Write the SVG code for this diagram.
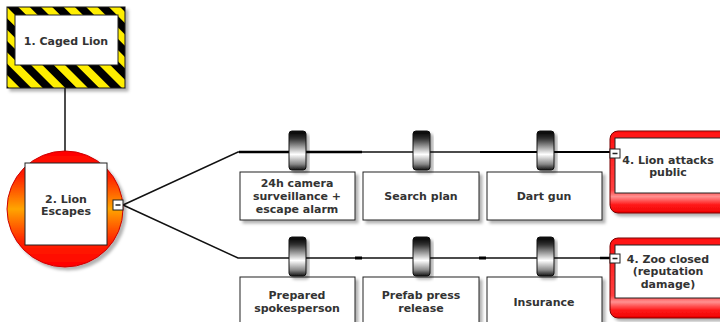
<svg xmlns="http://www.w3.org/2000/svg" width="720" height="322" viewBox="0 0 720 322">
<defs>
  <pattern id="hazard" patternUnits="userSpaceOnUse" width="16" height="16" patternTransform="rotate(-45)">
    <rect x="0" y="0" width="16" height="16" fill="#ffee00"/>
    <rect x="0" y="0" width="8" height="16" fill="#000"/>
  </pattern>
  <linearGradient id="circleGrad" x1="0" y1="0" x2="0" y2="1">
    <stop offset="0" stop-color="#ff0000"/>
    <stop offset="0.22" stop-color="#ff2200"/>
    <stop offset="0.5" stop-color="#ffa500"/>
    <stop offset="0.78" stop-color="#ff2200"/>
    <stop offset="1" stop-color="#ff0000"/>
  </linearGradient>
  <linearGradient id="cylGrad" x1="0" y1="0" x2="0" y2="1">
    <stop offset="0" stop-color="#000"/>
    <stop offset="0.2" stop-color="#333"/>
    <stop offset="0.6" stop-color="#fff"/>
    <stop offset="0.85" stop-color="#888"/>
    <stop offset="1" stop-color="#111"/>
  </linearGradient>
  <linearGradient id="redGrad" x1="0" y1="0" x2="0" y2="1">
    <stop offset="0" stop-color="#ff1010"/>
    <stop offset="0.72" stop-color="#ff4040"/>
    <stop offset="0.8" stop-color="#ff9090"/>
    <stop offset="0.9" stop-color="#ff1a1a"/>
    <stop offset="1" stop-color="#ee0000"/>
  </linearGradient>
  <filter id="shadow" x="-20%" y="-20%" width="140%" height="140%">
    <feDropShadow dx="3" dy="3" stdDeviation="1.5" flood-color="#000" flood-opacity="0.3"/>
  </filter>
</defs>
<style>
  text { font-family: "DejaVu Sans", Verdana, sans-serif; font-weight: bold; font-size: 11px; fill: #333; text-anchor: middle; }
  .box { fill: #fff; stroke: #222; stroke-width: 1; }
  .line { stroke: #111; stroke-width: 1.5; fill: none; }
  .cyl { fill: url(#cylGrad); stroke: #111; stroke-width: 1; }
  .minus { fill: #fff; stroke: #222; stroke-width: 1; }
  .red { fill: url(#redGrad); stroke: #700; stroke-width: 1; }
</style>

<g id="connectors">
  <line class="line" x1="65" y1="88" x2="65" y2="151"/>
  <polyline class="line" points="123,205 238,152 612,152"/>
  <polyline class="line" points="123,205 238,258 612,258"/>
  <line x1="239" y1="152" x2="362" y2="152" stroke="#000" stroke-width="2.5"/>
  <line x1="480" y1="152" x2="610" y2="152" stroke="#000" stroke-width="2"/>
  <line x1="355" y1="258" x2="362" y2="258" stroke="#000" stroke-width="3"/>
  <line x1="479" y1="258" x2="486" y2="258" stroke="#000" stroke-width="3"/>
  <line x1="600" y1="258" x2="610" y2="258" stroke="#000" stroke-width="2.5"/>
</g>

<g id="node1">
  <rect x="7" y="7" width="118" height="81" fill="url(#hazard)" stroke="#111" stroke-width="1" filter="url(#shadow)"/>
  <rect class="box" x="15" y="15" width="103" height="50"/>
  <text x="66" y="45">1. Caged Lion</text>
</g>

<g id="node2">
  <circle cx="65" cy="209" r="58" fill="url(#circleGrad)" stroke="#c00" stroke-width="1" filter="url(#shadow)"/>
  <rect class="box" x="25" y="163" width="82" height="82"/>
  <text x="66" y="203">2. Lion</text>
  <text x="66" y="215">Escapes</text>
  <rect class="minus" x="113" y="200" width="10" height="10"/>
  <line x1="115.5" y1="205" x2="120.5" y2="205" stroke="#222" stroke-width="1.5"/>
</g>

<g id="barrier1">
  <rect class="box" x="240" y="172" width="115" height="48" filter="url(#shadow)"/>
  <rect class="cyl" x="289" y="131" width="17" height="39" rx="3" filter="url(#shadow)"/>
  <text x="297" y="187">24h camera</text>
  <text x="297" y="200">surveillance +</text>
  <text x="297" y="213">escape alarm</text>
</g>
<g id="barrier2">
  <rect class="box" x="363" y="172" width="116" height="48" filter="url(#shadow)"/>
  <rect class="cyl" x="413" y="131" width="17" height="39" rx="3" filter="url(#shadow)"/>
  <text x="421" y="200">Search plan</text>
</g>
<g id="barrier3">
  <rect class="box" x="487" y="172" width="115" height="48" filter="url(#shadow)"/>
  <rect class="cyl" x="537" y="131" width="17" height="39" rx="3" filter="url(#shadow)"/>
  <text x="544" y="200">Dart gun</text>
</g>

<g id="consequence1">
  <rect class="red" x="610" y="131" width="120" height="82" rx="8" filter="url(#shadow)"/>
  <rect class="box" x="615" y="138" width="110" height="55"/>
  <rect class="minus" x="610" y="149" width="10" height="9"/>
  <line x1="612.5" y1="153.5" x2="617.5" y2="153.5" stroke="#222" stroke-width="1.5"/>
  <text x="668" y="164">4. Lion attacks</text>
  <text x="668" y="176">public</text>
</g>

<g id="barrier4">
  <rect class="box" x="240" y="277" width="115" height="50" filter="url(#shadow)"/>
  <rect class="cyl" x="289" y="237" width="17" height="39" rx="3" filter="url(#shadow)"/>
  <text x="297" y="299">Prepared</text>
  <text x="297" y="312">spokesperson</text>
</g>
<g id="barrier5">
  <rect class="box" x="363" y="277" width="116" height="50" filter="url(#shadow)"/>
  <rect class="cyl" x="413" y="237" width="17" height="39" rx="3" filter="url(#shadow)"/>
  <text x="421" y="299">Prefab press</text>
  <text x="421" y="312">release</text>
</g>
<g id="barrier6">
  <rect class="box" x="487" y="277" width="115" height="50" filter="url(#shadow)"/>
  <rect class="cyl" x="537" y="237" width="17" height="39" rx="3" filter="url(#shadow)"/>
  <text x="544" y="306">Insurance</text>
</g>

<g id="consequence2">
  <rect class="red" x="610" y="238" width="120" height="80" rx="8" filter="url(#shadow)"/>
  <rect class="box" x="615" y="245" width="110" height="53"/>
  <rect class="minus" x="610" y="254" width="10" height="9"/>
  <line x1="612.5" y1="258.5" x2="617.5" y2="258.5" stroke="#222" stroke-width="1.5"/>
  <text x="668" y="263">4. Zoo closed</text>
  <text x="668" y="275">(reputation</text>
  <text x="668" y="288">damage)</text>
</g>
</svg>
